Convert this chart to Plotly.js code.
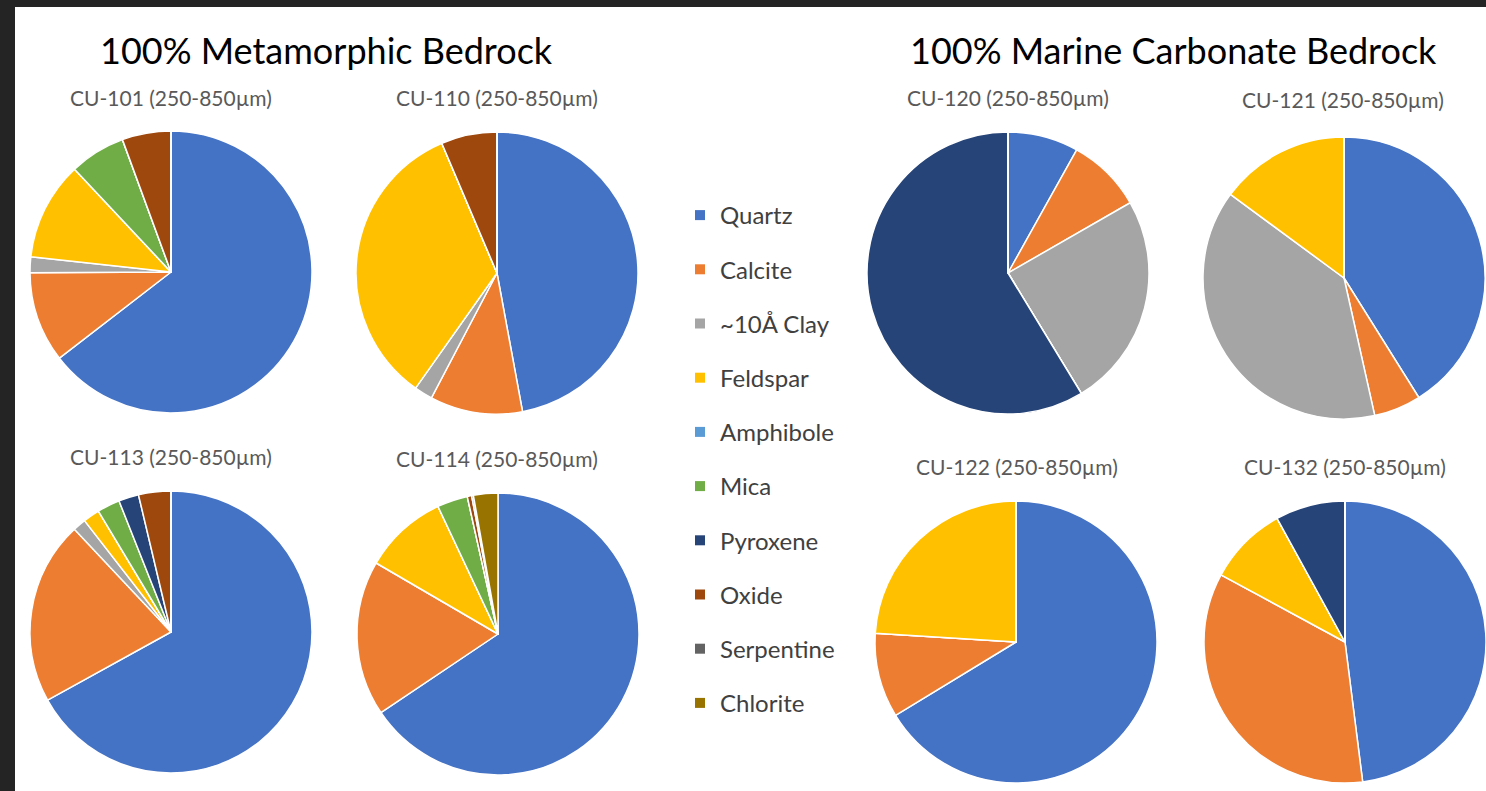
<!DOCTYPE html>
<html>
<head>
<meta charset="utf-8">
<script src="https://cdn.plot.ly/plotly-3.0.1.min.js"></script>
<style>html,body{margin:0;padding:0;background:#fff;}#chart{width:1486px;height:791px;}</style>
</head>
<body>
<div id="chart"></div>
<script>
// ---- data ----
const minerals = ['Quartz','Calcite','~10Å Clay','Feldspar','Amphibole','Mica','Pyroxene','Oxide','Serpentine','Chlorite'];
const mineralColors = ['#4472C4','#ED7D31','#A5A5A5','#FFC000','#5B9BD5','#70AD47','#264478','#9E480E','#636363','#997300'];
const groupTitles = ['100% Metamorphic Bedrock','100% Marine Carbonate Bedrock'];
const sampleNames = ['CU-101 (250-850µm)','CU-110 (250-850µm)','CU-113 (250-850µm)','CU-114 (250-850µm)',
                     'CU-120 (250-850µm)','CU-121 (250-850µm)','CU-122 (250-850µm)','CU-132 (250-850µm)'];
//                Qtz   Cal   Clay  Fsp   Amph Mica Pyx   Oxd  Serp Chl
const cu101 = [64.6, 10.4, 1.8, 11.3, 0, 6.4, 0,    5.6, 0,   0];
const cu110 = [47.1, 10.6, 2.1, 33.8, 0, 0,   0,    6.4, 0,   0];
const cu113 = [66.9, 21.0, 1.5, 1.9,  0, 2.6, 2.3,  3.7, 0,   0];
const cu114 = [65.6, 17.8, 0,   9.6,  0, 3.5, 0,    0.5, 0.2, 2.8];
const cu120 = [8.1,  8.6,  24.6,0,    0, 0,   58.7, 0,   0,   0];
const cu121 = [41.1, 5.4,  38.6,14.9, 0, 0,   0,    0,   0,   0];
const cu122 = [66.3, 9.7,  0,   24.0, 0, 0,   0,    0,   0,   0];
const cu132 = [48.0, 34.9, 0,   9.1,  0, 0,   8.0,  0,   0,   0];
const sampleValues = [cu101, cu110, cu113, cu114, cu120, cu121, cu122, cu132];

// ---- layout geometry (pixels) ----
const W = 1486, H = 791;
const pieCenters = [[171,272],[497,273],[171,632],[498,634],[1008,273],[1344,278],[1016,642],[1345,642]];
const pieR = 141;
const subTitlePos = [[171,97],[497,97],[171,456],[497,458],[1008,98],[1343,100],[1017,466],[1345,466]];
const groupTitlePos = [[326,50],[1173,50]];
const px = x => x / W;
const py = y => 1 - y / H;

const traces = [];
sampleValues.forEach((vals, i) => {
  const [cx, cy] = pieCenters[i];
  traces.push({
    type: 'pie',
    labels: minerals,
    values: vals,
    marker: {colors: mineralColors, line: {color: '#ffffff', width: 1.5}},
    sort: false,
    direction: 'clockwise',
    rotation: 0,
    textinfo: 'none',
    hoverinfo: 'label+percent',
    showlegend: false,
    name: sampleNames[i],
    domain: {x: [px(cx - pieR), px(cx + pieR)], y: [py(cy + pieR), py(cy - pieR)]}
  });
});
// legend entries
minerals.forEach((m, i) => {
  traces.push({
    type: 'scatter', mode: 'markers', x: [null], y: [null],
    name: m, legendgroup: 'g' + i,
    marker: {symbol: 'square', size: 10, color: mineralColors[i]},
    showlegend: true, hoverinfo: 'skip'
  });
});

const annotations = [];
groupTitles.forEach((t, i) => {
  annotations.push({text: t, x: px(groupTitlePos[i][0]), y: py(groupTitlePos[i][1]), xref: 'paper', yref: 'paper',
    xanchor: 'center', yanchor: 'middle', showarrow: false,
    font: {family: 'Lato, "Open Sans", sans-serif', size: 36, color: '#000000'}});
});
sampleNames.forEach((t, i) => {
  annotations.push({text: t, x: px(subTitlePos[i][0]), y: py(subTitlePos[i][1]), xref: 'paper', yref: 'paper',
    xanchor: 'center', yanchor: 'middle', showarrow: false,
    font: {family: 'Lato, "Open Sans", sans-serif', size: 21, color: '#595959'}});
});

const layout = {
  width: W, height: H,
  margin: {l: 0, r: 0, t: 0, b: 0},
  paper_bgcolor: '#ffffff', plot_bgcolor: 'rgba(0,0,0,0)',
  xaxis: {visible: false, showgrid: false, zeroline: false},
  yaxis: {visible: false, showgrid: false, zeroline: false},
  showlegend: true,
  legend: {x: px(680), y: py(193), xanchor: 'left', yanchor: 'top',
    font: {family: 'Lato, "Open Sans", sans-serif', size: 24, color: '#404040'},
    tracegroupgap: 20, itemwidth: 30, bgcolor: 'rgba(0,0,0,0)'},
  annotations: annotations,
  shapes: [
    {type: 'rect', xref: 'paper', yref: 'paper', x0: 0, x1: px(15), y0: 0, y1: 1, fillcolor: '#242424', line: {width: 0}, layer: 'below'},
    {type: 'rect', xref: 'paper', yref: 'paper', x0: 0, x1: 1, y0: py(7), y1: 1, fillcolor: '#242424', line: {width: 0}, layer: 'below'}
  ]
};

Plotly.newPlot('chart', traces, layout, {displayModeBar: false, responsive: false});
</script>
</body>
</html>
